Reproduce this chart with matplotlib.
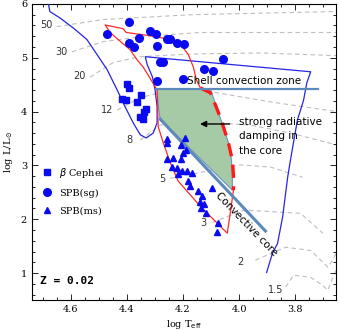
import numpy as np
import matplotlib
matplotlib.use('Agg')
import matplotlib.pyplot as plt
from matplotlib.ticker import MultipleLocator

# observed stars (log Teff, log L/Lsun)
bcep_T = [4.399, 4.392, 4.417, 4.402, 4.349, 4.363, 4.331, 4.338, 4.352, 4.342]
bcep_L = [4.52, 4.44, 4.24, 4.22, 4.31, 4.18, 4.05, 3.99, 3.90, 3.86]

spbsg_T = [4.392, 4.470, 4.317, 4.295, 4.356, 4.392, 4.374, 4.292, 4.256, 4.245,
           4.220, 4.195, 4.281, 4.270, 4.292, 4.199, 4.124, 4.092, 4.056]
spbsg_L = [5.67, 5.45, 5.50, 5.45, 5.37, 5.28, 5.20, 5.22, 5.35, 5.35,
           5.28, 5.26, 4.93, 4.93, 4.57, 4.61, 4.80, 4.76, 4.98]

spbms_T = [4.192, 4.256, 4.256, 4.206, 4.188, 4.199, 4.256, 4.234, 4.206, 4.238,
           4.220, 4.202, 4.184, 4.167, 4.217, 4.181, 4.095, 4.174, 4.145, 4.131,
           4.138, 4.124, 4.135, 4.117, 4.074, 4.077]
spbms_L = [3.51, 3.49, 3.42, 3.38, 3.29, 3.23, 3.12, 3.14, 3.12, 2.97,
           2.95, 2.90, 2.90, 2.86, 2.84, 2.71, 2.58, 2.62, 2.52, 2.43,
           2.32, 2.28, 2.21, 2.11, 1.93, 1.76]

# evolutionary tracks (dashed grey), label -> (logT, logL)
tracks = {
    '50': ([4.649, 4.484, 4.174, 3.652], [5.58, 5.71, 5.80, 5.86]),
    '30': ([4.595, 4.484, 4.352, 4.138, 3.652], [5.11, 5.30, 5.39, 5.47, 5.47]),
    '20': ([4.531, 4.449, 4.352, 4.174, 3.924, 3.652], [4.64, 4.91, 5.02, 5.07, 5.09, 5.04]),
    '12': ([4.434, 4.352, 4.281, 4.102, 3.888, 3.652], [4.03, 4.26, 4.35, 4.37, 4.18, 4.00]),
    '8': ([4.352, 4.281, 4.149, 3.959, 3.817, 3.652], [3.47, 3.75, 3.81, 3.75, 3.60, 3.38]),
    '5': ([4.245, 4.138, 3.995, 3.888, 3.774], [2.76, 2.87, 3.01, 2.97, 2.78]),
    '3': ([4.095, 3.984, 3.781, 3.702], [1.94, 2.17, 2.11, 1.74]),
    '2': ([3.942, 3.834, 3.745, 3.684, 3.667, 3.650], [1.24, 1.48, 1.42, 1.11, 1.24, 1.42]),
    '1.5': ([3.834, 3.806, 3.745, 3.702, 3.684, 3.663, 3.650], [0.74, 0.96, 0.92, 0.77, 0.68, 0.96, 1.10]),
}
track_labels = {'50': (4.688, 5.61), '30': (4.631, 5.11), '20': (4.570, 4.66),
                '12': (4.470, 4.03), '8': (4.392, 3.47), '5': (4.274, 2.75),
                '3': (4.127, 1.93), '2': (3.995, 1.20), '1.5': (3.870, 0.68)}

# beta Cep / SPB(sg) instability strip (blue)
strip_T = [4.681, 4.674, 4.638, 4.592, 4.542, 4.506, 4.470, 4.434, 4.406, 4.377,
           4.352, 4.331, 4.306, 4.292, 4.292, 4.299, 4.309, 4.327, 4.334,
           3.745, 3.759, 3.770, 3.781, 3.792, 3.817, 3.827, 3.845, 3.863, 3.881, 3.902]
strip_L = [6.05, 5.86, 5.74, 5.56, 5.34, 5.06, 4.78, 4.40, 4.09, 3.79,
           3.57, 3.51, 3.60, 3.79, 4.09, 4.40, 4.65, 4.87, 5.02,
           4.74, 4.53, 4.22, 4.03, 3.85, 3.10, 2.78, 2.04, 1.55, 1.37, 1.01]

# SPB region (red), solid part and dashed part
spb_solid_T = [4.138, 4.152, 4.163, 4.181, 4.209, 4.245, 4.317, 4.402, 4.413, 4.477,
               4.459, 4.431, 4.388, 4.363, 4.342, 4.324, 4.309, 4.292, 4.288, 4.270,
               4.245, 4.217, 4.138, 4.042, 4.031, 4.020]
spb_solid_L = [4.44, 4.59, 4.83, 5.06, 5.26, 5.34, 5.41, 5.47, 5.54, 5.61,
               5.47, 5.34, 5.15, 4.96, 4.83, 4.68, 4.55, 4.40, 3.72, 3.42,
               3.05, 2.71, 2.24, 1.74, 2.13, 2.54]
spb_dash_T = [4.138, 4.102, 4.077, 4.056, 4.038, 4.024, 4.020, 4.020]
spb_dash_L = [4.44, 4.35, 4.03, 3.72, 3.42, 3.10, 2.82, 2.54]

# radiative damping region (green)
damp_T = [4.292, 4.102, 4.077, 4.056, 4.038, 4.027, 4.024, 4.024, 4.281, 4.288]
damp_L = [4.42, 4.42, 4.03, 3.72, 3.42, 3.10, 2.77, 2.54, 3.86, 4.10]

shell_T = [4.292, 3.720]
shell_L = [4.42, 4.42]
core_T = [4.281, 3.906]
core_L = [3.86, 1.78]

fig = plt.figure(figsize=(3.39, 3.30), dpi=100)
ax = fig.add_axes([0.094, 0.091, 0.897, 0.897])

for k, (t, l) in tracks.items():
    ax.plot(t, l, color='#bdbdbd', lw=0.8, dashes=(4, 3), zorder=1)
    ax.text(track_labels[k][0], track_labels[k][1], k, fontsize=7, color='#333333',
            ha='center', va='center', family='DejaVu Sans')

ax.fill(damp_T, damp_L, facecolor='#a6c9a6', edgecolor='#6a93c0', lw=0.8, zorder=2)
ax.plot(strip_T, strip_L, color='#2525e6', lw=0.9, zorder=3)
ax.plot(spb_solid_T, spb_solid_L, color='#ff2a2a', lw=0.9, zorder=3)
ax.plot(spb_dash_T, spb_dash_L, color='#ff1a1a', lw=2.4, dashes=(4, 2.5), zorder=3)
ax.plot(shell_T, shell_L, color='#5b8abb', lw=1.6, zorder=4)
ax.plot(core_T, core_L, color='#5b8abb', lw=2.2, zorder=4)

ax.plot(bcep_T, bcep_L, 's', color='#0a0af0', ms=4.2, ls='none', label=r'$\beta$ Cephei', zorder=5)
ax.plot(spbsg_T, spbsg_L, 'o', color='#0a0af0', ms=5.5, ls='none', label='SPB(sg)', zorder=5)
ax.plot(spbms_T, spbms_L, '^', color='#0a0af0', ms=4.8, ls='none', label='SPB(ms)', zorder=5)

ax.text(3.984, 4.57, 'Shell convection zone', fontsize=7.5, ha='center', va='center', zorder=6)
ax.annotate('', xy=(4.149, 3.77), xytext=(4.024, 3.77),
            arrowprops=dict(arrowstyle='-|>', color='black', lw=1.0, mutation_scale=9), zorder=6)
ax.text(4.002, 3.90, 'strong radiative\ndamping in\nthe core', fontsize=7.5,
        ha='left', va='top', linespacing=1.55, zorder=6)
ax.text(3.974, 1.90, 'Convective core', fontsize=7.5, rotation=-46,
        ha='center', va='center', rotation_mode='anchor', zorder=6)
ax.text(0.026, 0.064, 'Z = 0.02', transform=ax.transAxes, fontsize=8,
        family='DejaVu Sans Mono', weight='bold', va='center')

leg = ax.legend(loc='upper left', bbox_to_anchor=(0.02, 0.47), frameon=False,
                prop={'family': 'DejaVu Serif', 'size': 7}, handlelength=0.8,
                handletextpad=0.9, labelspacing=0.9, borderpad=0)

ax.set_xlim(4.738, 3.655)
ax.set_ylim(0.5, 6.0)
ax.xaxis.set_major_locator(MultipleLocator(0.2))
ax.xaxis.set_minor_locator(MultipleLocator(0.05))
ax.yaxis.set_major_locator(MultipleLocator(1))
ax.yaxis.set_minor_locator(MultipleLocator(0.2))
ax.tick_params(which='both', direction='in', top=True, right=True, labelsize=7, width=0.6)
ax.tick_params(which='major', length=4)
ax.tick_params(which='minor', length=2)
for lab in ax.get_xticklabels() + ax.get_yticklabels():
    lab.set_family('DejaVu Serif')
for s in ax.spines.values():
    s.set_linewidth(0.8)
ax.set_xlabel(r'log T$_{\rm eff}$', fontsize=7, family='DejaVu Serif', labelpad=3)
ax.set_ylabel(r'log L/L$_\odot$', fontsize=7, family='DejaVu Serif', labelpad=4)

fig.savefig('out.png', dpi=100)
